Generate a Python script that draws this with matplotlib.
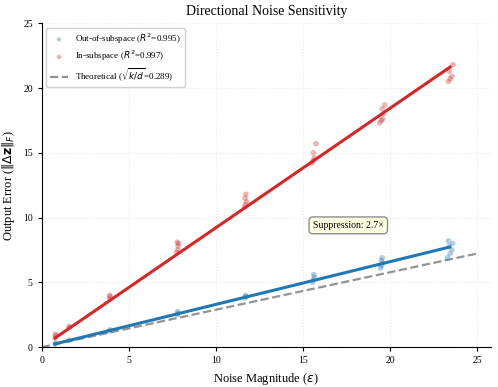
import numpy as np
import matplotlib
matplotlib.use("Agg")
import matplotlib.pyplot as plt

plt.rcParams['font.family'] = ['Liberation Serif', 'DejaVu Serif']

# Noise magnitudes (epsilon) per trial
eps_out = [0.76, 0.80, 1.56, 3.88, 3.92, 7.78, 7.82, 7.80, 11.68, 11.72, 11.70,
           15.55, 15.60, 15.65, 15.62, 19.45, 19.52, 19.58, 19.50, 19.55,
           23.30, 23.45, 23.55, 23.40, 23.60, 23.35]
err_out = [0.25, 0.30, 0.55, 1.25, 1.35, 2.50, 2.60, 2.75, 3.80, 3.90, 4.00,
           5.00, 5.20, 5.40, 5.60, 6.10, 6.30, 6.50, 6.70, 6.90,
           6.90, 7.20, 7.50, 7.80, 8.00, 8.20]

eps_in = [0.76, 0.80, 0.78, 1.56, 1.58, 3.88, 3.92, 3.90, 7.75, 7.80, 7.82, 7.85, 7.78,
          11.62, 11.70, 11.75, 11.68, 11.72, 15.50, 15.58, 15.65, 15.60, 15.75,
          19.40, 19.50, 19.58, 19.62, 19.55, 19.70, 23.35, 23.45, 23.55, 23.40, 23.62]
err_in = [0.70, 0.90, 1.00, 1.50, 1.60, 3.70, 3.90, 4.00, 7.30, 7.50, 7.80, 8.00, 8.10,
          10.80, 11.00, 11.20, 11.50, 11.80, 14.20, 14.40, 14.60, 15.00, 15.70,
          17.30, 17.50, 17.60, 18.00, 18.40, 18.70, 20.50, 20.70, 20.90, 21.30, 21.80]

r2_out = 0.995
r2_in = 0.997
theory_slope = 0.289
suppression = 2.7

eps_out = np.array(eps_out); err_out = np.array(err_out)
eps_in = np.array(eps_in); err_in = np.array(err_in)

fig = plt.figure(figsize=(4.98, 3.87), dpi=100)
ax = fig.add_axes([0.084, 0.103, 0.902, 0.837])

blue = '#1f77b4'
red = '#d62728'

ax.scatter(eps_out, err_out, s=16, color=blue, alpha=0.35, edgecolors='none',
           label=f'Out-of-subspace ($R^2$={r2_out:.3f})', zorder=3)
ax.scatter(eps_in, err_in, s=16, color=red, alpha=0.35, edgecolors='none',
           label=f'In-subspace ($R^2$={r2_in:.3f})', zorder=3)

for xs, ys, c in [(eps_out, err_out, blue), (eps_in, err_in, red)]:
    slope = np.sum(xs * ys) / np.sum(xs * xs)
    xx = np.array([xs.min(), np.median(xs[xs > xs.max() - 1])])
    ax.plot(xx, slope * xx, color=c, lw=2.2, zorder=4)

xt = np.array([0, 25])
ax.plot(xt, theory_slope * xt, '--', color='gray', lw=1.6, alpha=0.85,
        label=f'Theoretical ($\\sqrt{{k/d}}$={theory_slope:.3f})', zorder=2)

ax.text(17.6, 9.4, f'Suppression: {suppression:.1f}×', fontsize=7, ha='center', va='center',
        bbox=dict(boxstyle='round,pad=0.4', facecolor='#ffffe0', edgecolor='gray', alpha=0.9))

ax.set_xlim(0, 25.8)
ax.set_ylim(0, 25)
ax.set_xticks([0, 5, 10, 15, 20, 25])
ax.set_yticks([0, 5, 10, 15, 20, 25])
ax.tick_params(labelsize=7, length=3)
ax.grid(True, linestyle=':', color='#dddddd', alpha=0.6, lw=0.8)
ax.spines['top'].set_visible(False)
ax.spines['right'].set_visible(False)

ax.set_xlabel('Noise Magnitude ($\\epsilon$)', fontsize=9)
ax.set_ylabel('Output Error ($\\|\\Delta \\mathbf{z}\\|_F$)', fontsize=9)
ax.set_title('Directional Noise Sensitivity', fontsize=10)

ax.legend(loc='upper left', fontsize=6.5, framealpha=0.9, edgecolor='#cccccc',
          markerscale=0.8, labelspacing=0.35)

fig.savefig('out.png', dpi=100)
